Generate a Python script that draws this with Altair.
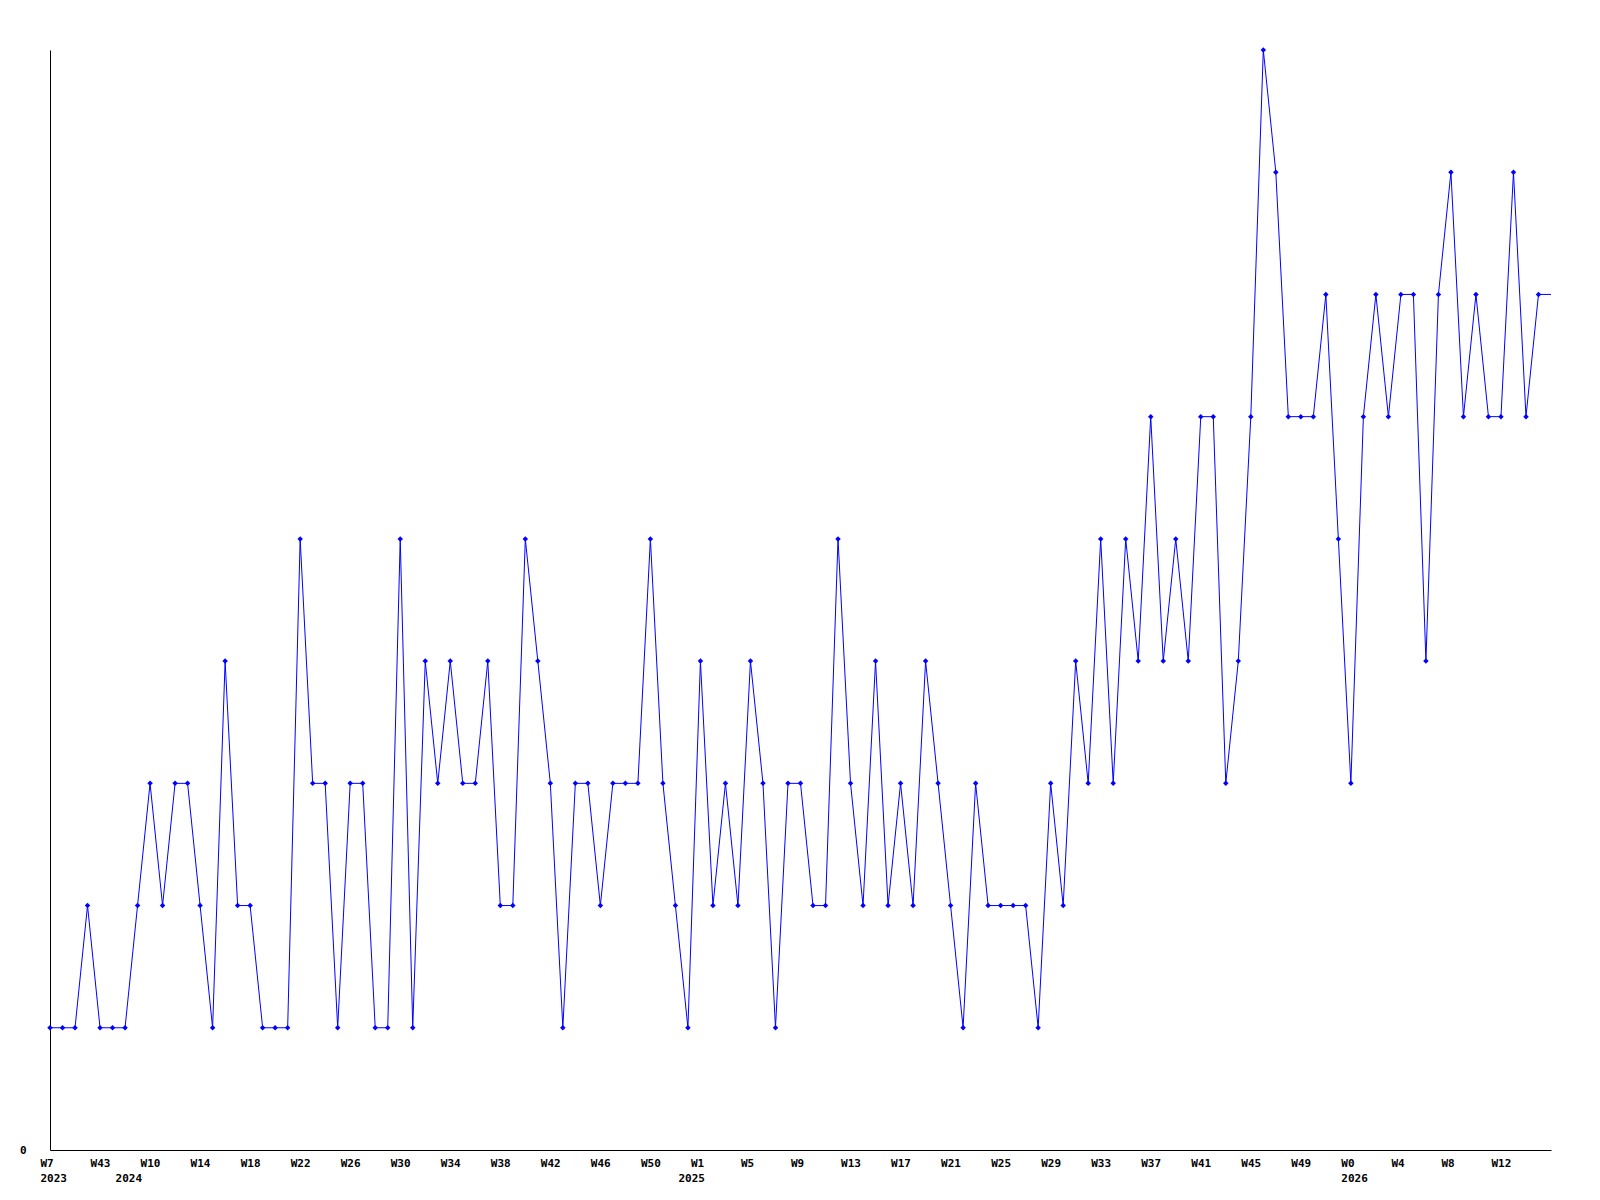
import json
import altair as alt
import pandas as pd

# weekly values (index 0..120); the last one is the open week, drawn without a marker
values = [1, 1, 1, 2, 1, 1, 1, 2, 3, 2,
          3, 3, 2, 1, 4, 2, 2, 1, 1, 1,
          5, 3, 3, 1, 3, 3, 1, 1, 5, 1,
          4, 3, 4, 3, 3, 4, 2, 2, 5, 4,
          3, 1, 3, 3, 2, 3, 3, 3, 5, 3,
          2, 1, 4, 2, 3, 2, 4, 3, 1, 3,
          3, 2, 2, 5, 3, 2, 4, 2, 3, 2,
          4, 3, 2, 1, 3, 2, 2, 2, 2, 1,
          3, 2, 4, 3, 5, 3, 5, 4, 6, 4,
          5, 4, 6, 6, 3, 4, 6, 9, 8, 6,
          6, 6, 7, 5, 3, 6, 7, 6, 7, 7,
          4, 7, 8, 6, 7, 6, 6, 8, 6, 7,
          7]

week_ticks = list(range(0, 120, 4))
week_labels = ["W7", "W43", "W10", "W14", "W18", "W22", "W26", "W30", "W34", "W38",
               "W42", "W46", "W50", "W1", "W5", "W9", "W13", "W17", "W21", "W25",
               "W29", "W33", "W37", "W41", "W45", "W49", "W0", "W4", "W8", "W12"]
year_ticks = [0, 6, 51, 104]
year_labels = ["2023", "2024", "2025", "2026"]

df = pd.DataFrame({"i": list(range(len(values))), "v": values})
df["marker"] = [True] * (len(values) - 1) + [False]

all_ticks = sorted(set(week_ticks) | set(year_ticks))
wt, wl = json.dumps(week_ticks), json.dumps(week_labels)
yt, yl = json.dumps(year_ticks), json.dumps(year_labels)
label_expr = (
    f"[indexof({wt}, datum.value) >= 0 ? {wl}[indexof({wt}, datum.value)] : '', "
    f"indexof({yt}, datum.value) >= 0 ? {yl}[indexof({yt}, datum.value)] : '']"
)

FONT = "DejaVu Sans Mono"
BLUE = "#0000ff"

x = alt.X(
    "i:Q",
    scale=alt.Scale(domain=[0, 120], nice=False, zero=False),
    axis=alt.Axis(
        values=all_ticks, labelExpr=label_expr, title=None, grid=False,
        ticks=False, tickSize=0, domainColor="black", domainWidth=1,
        labelAlign="left", labelBaseline="top", labelOffset=-10, labelPadding=7,
        labelLineHeight=15, labelOverlap=False, labelFlush=False, labelBound=False,
        labelFont=FONT, labelFontSize=11, labelFontWeight="bold", labelColor="black",
    ),
)
y = alt.Y(
    "v:Q",
    scale=alt.Scale(domain=[0, 9], nice=False, zero=True),
    axis=alt.Axis(
        values=[0], format="d", title=None, grid=False, ticks=False, tickSize=0,
        domainColor="black", domainWidth=1, labelPadding=24,
        labelFont=FONT, labelFontSize=11, labelFontWeight="bold", labelColor="black",
    ),
)

line = alt.Chart(df).mark_line(color=BLUE, strokeWidth=1).encode(x=x, y=y)
points = (
    alt.Chart(df)
    .transform_filter("datum.marker")
    .mark_point(shape="diamond", filled=True, size=30, color=BLUE, opacity=1)
    .encode(x="i:Q", y="v:Q")
)

chart = (
    alt.layer(line, points)
    .properties(
        width=1501, height=1100,
        padding={"left": 42, "top": 42, "right": 40, "bottom": 40},
        autosize=alt.AutoSizeParams(type="none"),
        background="white",
    )
    .configure_view(stroke=None)
)

chart.save("out.html", embed_options={"renderer": "svg", "actions": False})
